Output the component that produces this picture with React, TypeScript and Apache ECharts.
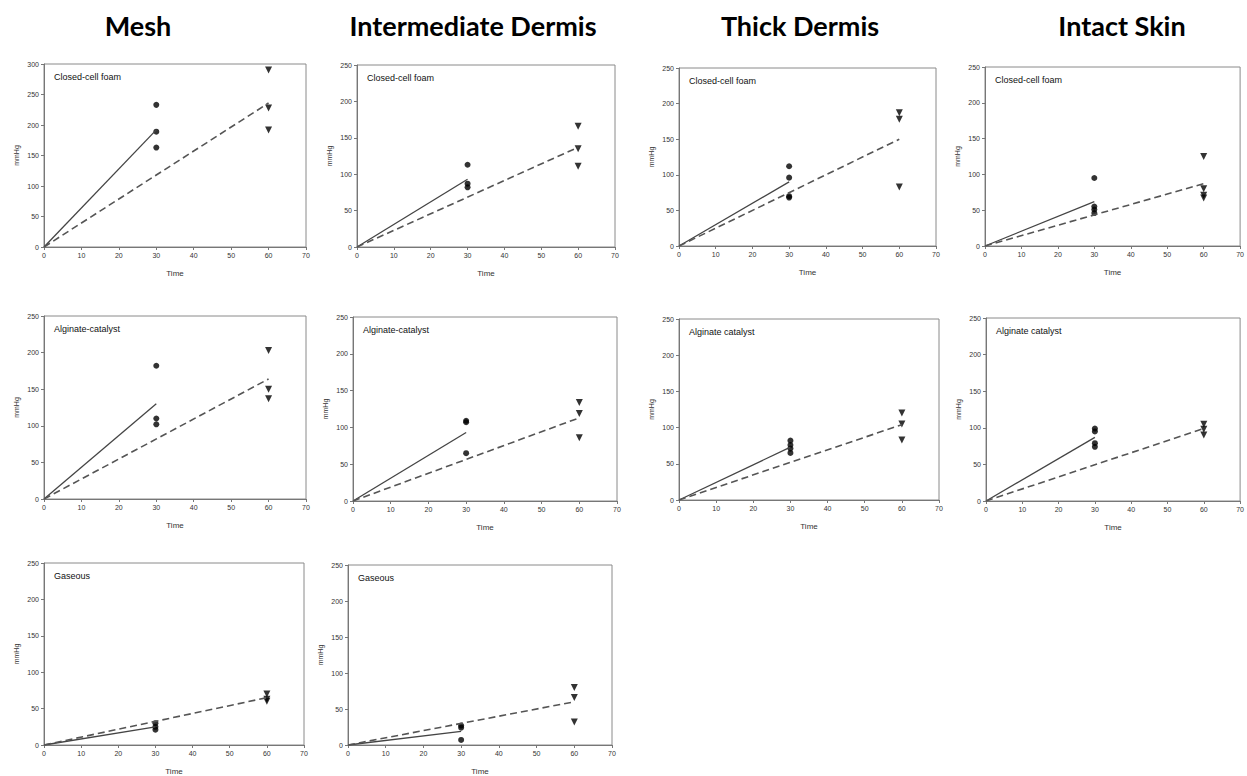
import React, { useEffect, useRef } from "react";
import * as echarts from "echarts";

// ---- data (mmHg readings at 30 and 60 min, and fitted line ends) ----
const headers = ["Mesh", "Intermediate Dermis", "Thick Dermis", "Intact Skin"];
const timeMax = 70;

const meshClosed30 = [233, 189, 163];
const meshClosed60 = [290, 228, 192];
const meshClosedFit = [192, 236];

const interClosed30 = [113, 87, 82];
const interClosed60 = [166, 135, 111];
const interClosedFit = [93, 137];

const thickClosed30 = [112, 96, 70, 68];
const thickClosed60 = [187, 178, 83];
const thickClosedFit = [90, 150];

const intactClosed30 = [95, 55, 51, 46];
const intactClosed60 = [125, 80, 71, 67];
const intactClosedFit = [62, 87];

const meshAlg30 = [182, 110, 102];
const meshAlg60 = [203, 150, 137];
const meshAlgFit = [130, 164];

const interAlg30 = [109, 107, 65];
const interAlg60 = [134, 119, 86];
const interAlgFit = [93, 113];

const thickAlg30 = [82, 76, 71, 65];
const thickAlg60 = [120, 105, 83];
const thickAlgFit = [73, 104];

const intactAlg30 = [99, 95, 79, 74];
const intactAlg60 = [105, 98, 90];
const intactAlgFit = [87, 99];

const meshGas30 = [30, 25, 21];
const meshGas60 = [70, 63, 60];
const meshGasFit = [25, 65];

const interGas30 = [27, 24, 7];
const interGas60 = [80, 66, 32];
const interGasFit = [19, 60];

const panels = [
  { label: "Closed-cell foam", yMax: 300, p30: meshClosed30, p60: meshClosed60, fit: meshClosedFit },
  { label: "Closed-cell foam", yMax: 250, p30: interClosed30, p60: interClosed60, fit: interClosedFit },
  { label: "Closed-cell foam", yMax: 250, p30: thickClosed30, p60: thickClosed60, fit: thickClosedFit },
  { label: "Closed-cell foam", yMax: 250, p30: intactClosed30, p60: intactClosed60, fit: intactClosedFit },
  { label: "Alginate-catalyst", yMax: 250, p30: meshAlg30, p60: meshAlg60, fit: meshAlgFit },
  { label: "Alginate-catalyst", yMax: 250, p30: interAlg30, p60: interAlg60, fit: interAlgFit },
  { label: "Alginate catalyst", yMax: 250, p30: thickAlg30, p60: thickAlg60, fit: thickAlgFit },
  { label: "Alginate catalyst", yMax: 250, p30: intactAlg30, p60: intactAlg60, fit: intactAlgFit },
  { label: "Gaseous", yMax: 250, p30: meshGas30, p60: meshGas60, fit: meshGasFit },
  { label: "Gaseous", yMax: 250, p30: interGas30, p60: interGas60, fit: interGasFit },
];

// ---- layout (pixel plot boxes) ----
const boxes = [
  [44, 64, 262, 183],
  [357, 65, 258, 182],
  [679, 68, 257, 178],
  [985, 67, 258, 179],
  [44, 316, 262, 183],
  [353, 317, 264, 184],
  [679, 319, 260, 181],
  [986, 318, 258, 183],
  [44, 563, 260, 182],
  [348, 565, 264, 185],
];
const headerX = [138, 473, 800, 1122];

const FONT = "Liberation Sans, Arial, sans-serif";

export default function App() {
  const ref = useRef<HTMLDivElement>(null);
  useEffect(() => {
    if (!ref.current) return;
    const chart = echarts.init(ref.current, undefined, { renderer: "svg" });
    const grid: any[] = [];
    const xAxis: any[] = [];
    const yAxis: any[] = [];
    const series: any[] = [];
    const graphic: any[] = [];

    headers.forEach((h, i) => {
      graphic.push({
        type: "text",
        x: headerX[i],
        y: 25,
        style: {
          text: h,
          font: "bold 27px Lato, 'Open Sans', sans-serif",
          fill: "#000",
          textAlign: "center",
          textVerticalAlign: "middle",
        },
      });
    });

    panels.forEach((p, i) => {
      const [l, t, w, hgt] = boxes[i];
      grid.push({
        left: l, top: t, width: w, height: hgt,
        show: true, borderColor: "#8a8a8a", borderWidth: 1, backgroundColor: "#fff",
      });
      const axisCommon = {
        gridIndex: i,
        type: "value",
        axisLine: { show: true, lineStyle: { color: "#777", width: 1 } },
        axisTick: { show: true, length: 3, lineStyle: { color: "#777" } },
        splitLine: { show: false },
        axisLabel: { fontSize: 7, color: "#333", fontFamily: FONT, margin: 5 },
      };
      xAxis.push({
        ...axisCommon,
        min: 0, max: timeMax, interval: 10,
        name: "Time", nameLocation: "middle", nameGap: 22,
        nameTextStyle: { fontSize: 8, color: "#333", fontFamily: FONT },
      });
      yAxis.push({
        ...axisCommon,
        min: 0, max: p.yMax, interval: 50,
        name: "mmHg", nameLocation: "middle", nameGap: 24, nameRotate: 90,
        nameTextStyle: { fontSize: 7, color: "#333", fontFamily: FONT },
      });
      series.push({
        type: "line", xAxisIndex: i, yAxisIndex: i,
        data: [[0, 0], [30, p.fit[0]]],
        showSymbol: false, symbol: "none",
        lineStyle: { color: "#444", width: 1.3, type: "solid" },
        silent: true,
      });
      series.push({
        type: "line", xAxisIndex: i, yAxisIndex: i,
        data: [[0, 0], [60, p.fit[1]]],
        showSymbol: false, symbol: "none",
        lineStyle: { color: "#555", width: 1.6, type: [7, 4] },
        silent: true,
      });
      series.push({
        type: "scatter", xAxisIndex: i, yAxisIndex: i,
        data: p.p30.map((v) => [30, v]),
        symbol: "circle", symbolSize: 6,
        itemStyle: { color: "#000" },
      });
      series.push({
        type: "scatter", xAxisIndex: i, yAxisIndex: i,
        data: p.p60.map((v) => [60, v]),
        symbol: "triangle", symbolRotate: 180, symbolSize: 7,
        itemStyle: { color: "#000" },
      });
      graphic.push({
        type: "text",
        x: l + 10,
        y: t + 13,
        style: {
          text: p.label,
          font: `9px ${FONT}`,
          fill: "#111",
          textVerticalAlign: "middle",
        },
        z: 100,
      });
    });

    chart.setOption({
      animation: false,
      backgroundColor: "#fff",
      grid, xAxis, yAxis, series, graphic,
    });
    return () => chart.dispose();
  }, []);
  return (
    <div
      ref={ref}
      style={{ position: "fixed", left: 0, top: 0, width: 1247, height: 776, background: "#fff" }}
    />
  );
}
